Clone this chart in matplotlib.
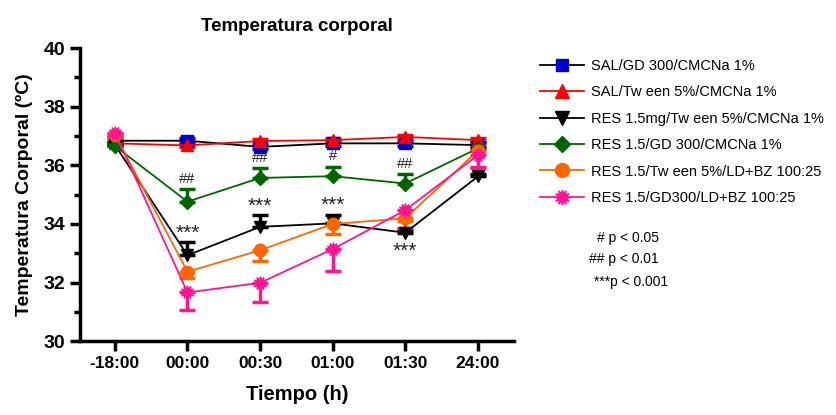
import numpy as np
import matplotlib
matplotlib.use('Agg')
import matplotlib.pyplot as plt
from matplotlib.lines import Line2D

plt.rcParams['font.family'] = ['Liberation Sans', 'DejaVu Sans']

# Tiempos (categorias del eje x)
tiempos = ['-18:00', '00:00', '00:30', '01:00', '01:30', '24:00']

# Series: media y error (SEM) por grupo
sal_gd = [36.84, 36.84, 36.63, 36.75, 36.75, 36.69]
sal_gd_err = [0.08, 0.08, 0.08, 0.08, 0.08, 0.08]
sal_tw = [36.75, 36.68, 36.83, 36.86, 36.97, 36.86]
sal_tw_err = [0.06, 0.06, 0.06, 0.06, 0.06, 0.06]
res_tw = [36.70, 32.93, 33.90, 34.02, 33.70, 35.62]
res_tw_err = [0.10, 0.46, 0.40, 0.30, 0.10, 0.10]
res_gd = [36.66, 34.76, 35.57, 35.63, 35.38, 36.58]
res_gd_err = [0.10, 0.43, 0.33, 0.32, 0.32, 0.20]
res_tw_ld = [37.05, 32.37, 33.10, 34.00, 34.19, 36.50]
res_tw_ld_err = [0.10, 0.23, 0.36, 0.35, 0.10, 0.60]
res_gd_ld = [37.12, 31.66, 31.99, 33.14, 34.47, 36.35]
res_gd_ld_err = [0.10, 0.60, 0.65, 0.74, 0.62, 0.40]

etiquetas = ['SAL/GD 300/CMCNa 1%',
             'SAL/Tw een 5%/CMCNa 1%',
             'RES 1.5mg/Tw een 5%/CMCNa 1%',
             'RES 1.5/GD 300/CMCNa 1%',
             'RES 1.5/Tw een 5%/LD+BZ 100:25',
             'RES 1.5/GD300/LD+BZ 100:25']

# Anotaciones de significancia
sig_gd = [(1, '##'), (2, '##'), (3, '#'), (4, '##')]
sig_tw = [(1, '***', 'up'), (2, '***', 'up'), (3, '***', 'up'), (4, '***', 'down')]

x = np.arange(len(tiempos))

fig = plt.figure(figsize=(8.36, 4.15), dpi=100)
ax = fig.add_axes([0.0957, 0.178, 0.5194, 0.706])

series = [
    (sal_gd, sal_gd_err, '#0000CC', 'black', 's', 8, 'both'),
    (sal_tw, sal_tw_err, 'red', 'red', '^', 9, 'both'),
    (res_tw, res_tw_err, 'black', 'black', 'v', 9, 'up'),
    (res_gd, res_gd_err, '#006400', '#006400', 'D', 7, 'up'),
    (res_tw_ld, res_tw_ld_err, '#FF6600', '#FF6600', 'o', 9, 'down'),
    (res_gd_ld, res_gd_ld_err, '#FF1493', '#FF1493', (12, 1, 0), 10, 'down'),
]

handles = []
for (y, e, mc, lc, mk, ms, lado), lab in zip(series, etiquetas):
    y = np.array(y)
    e = np.array(e)
    if lado == 'up':
        yerr = [np.zeros_like(e), e]
    elif lado == 'down':
        yerr = [e, np.zeros_like(e)]
    else:
        yerr = [e, e]
    ax.errorbar(x, y, yerr=yerr, color=lc, ecolor=mc, elinewidth=2.5,
                capsize=6, capthick=2.5, marker=mk, markersize=ms,
                markerfacecolor=mc, markeredgecolor=mc, lw=1.3)
    handles.append(Line2D([], [], color=lc, lw=1.3, marker=mk,
                          markersize=ms + 1, markerfacecolor=mc,
                          markeredgecolor=mc, label=lab))

for i, txt in sig_gd:
    ax.text(x[i], res_gd[i] + res_gd_err[i] + 0.12, txt, ha='center',
            va='bottom', fontsize=10.5, color='#222222')
for i, txt, pos in sig_tw:
    if pos == 'up':
        ax.text(x[i], res_tw[i] + res_tw_err[i] - 0.02, txt, ha='center',
                va='bottom', fontsize=15, color='#222222')
    else:
        ax.text(x[i], res_tw[i] - 0.3, txt, ha='center', va='top',
                fontsize=15, color='#222222')

ax.set_xlim(-0.48, 5.5)
ax.set_ylim(30, 40)
ax.set_xticks(x)
ax.set_xticklabels(tiempos, fontsize=12.5, fontweight='bold')
ax.set_yticks(np.arange(30, 41, 2))
ax.set_yticklabels([str(v) for v in range(30, 41, 2)], fontsize=14,
                   fontweight='bold')
ax.set_yticks(np.arange(31, 40, 2), minor=True)
ax.tick_params(axis='both', which='major', width=2.5, length=7)
ax.tick_params(axis='y', which='minor', width=2.5, length=4)
for s in ['top', 'right']:
    ax.spines[s].set_visible(False)
for s in ['left', 'bottom']:
    ax.spines[s].set_linewidth(2.5)

ax.set_title('Temperatura corporal', fontsize=13.5, fontweight='bold', pad=12)
ax.set_xlabel('Tiempo (h)', fontsize=14.5, fontweight='bold', labelpad=10)
ax.set_ylabel('Temperatura Corporal (ºC)', fontsize=14, fontweight='bold',
              labelpad=8)

ax.legend(handles=handles, loc='upper left', bbox_to_anchor=(1.03, 1.008),
          frameon=False, fontsize=10.5, handlelength=3.0, labelspacing=0.85,
          handletextpad=0.5)

fig.text(0.714, 0.417, '# p < 0.05', fontsize=10)
fig.text(0.705, 0.366, '## p < 0.01', fontsize=10)
fig.text(0.710, 0.311, '***p < 0.001', fontsize=10)

fig.savefig('out.png', dpi=100)
